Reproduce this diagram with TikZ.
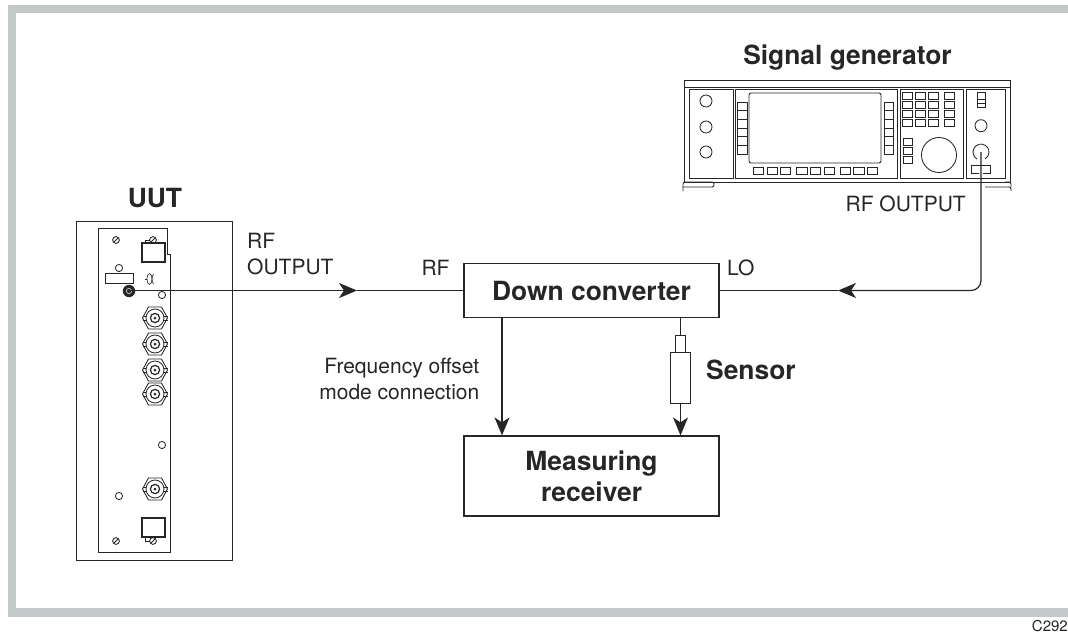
\documentclass[tikz,border=0pt]{standalone}
\usepackage{fontspec}
\setmainfont{TeX Gyre Heros}
\usetikzlibrary{arrows.meta}

\definecolor{bandgrey}{HTML}{C3C8C8}
\definecolor{inkgrey}{HTML}{262626}

% helpers for the front panels
\newcommand{\panelscrew}[1]{
    \draw[thin line] #1 circle (3.4);
    \draw[thin line] #1 ++(-2.2,2.2) -- ++(4.4,-4.4);
}
\newcommand{\bncsocket}[1]{
    \begin{scope}[shift={#1}]
        \draw[thin line] (-12.5,0) -- (-6.5,-11) -- (6.5,-11) -- (12.5,0) -- (6.5,11) -- (-6.5,11) -- cycle;
        \draw[thin line] (0,0) circle (9);
        \draw[fine line] (-12.5,-2) -- (-9,-2) (-12.5,2) -- (-9,2) (12.5,-2) -- (9,-2) (12.5,2) -- (9,2);
        \draw[line width=1.2pt,draw=inkgrey] (0,0) circle (4.6);
        \fill[inkgrey] (0,0) circle (1.5);
    \end{scope}
}
\newcommand{\softkey}[4]{\draw[fine line] (#1,#2) rectangle (#3,#4);}

\begin{document}
\begin{tikzpicture}[x=1pt,y=-1pt,
    thin line/.style={line width=0.85pt,draw=inkgrey},
    fine line/.style={line width=0.65pt,draw=inkgrey},
    panel line/.style={line width=0.95pt,draw=inkgrey},
    link/.style={line width=1.2pt,draw=inkgrey},
    arrowed/.style={link,-{Stealth[length=18pt,width=15pt,inset=5pt]}},
    blockbox/.style={draw=inkgrey,line width=1.2pt,inner sep=0pt,minimum width=255pt,align=center,font=\fontsize{26.4}{31}\selectfont\bfseries,text=inkgrey},
    headtext/.style={font=\fontsize{26.4}{31}\selectfont\bfseries,text=inkgrey,inner sep=0pt},
    plaintext/.style={font=\fontsize{21}{26}\selectfont,text=inkgrey,inner sep=0pt}]
    \useasboundingbox (0,0) rectangle (1068,634);
    % grey band round the figure
    \fill[bandgrey] (8,5) rectangle (1068,13);
    \fill[bandgrey] (8,5) rectangle (16,617);
    \fill[bandgrey] (8,608) rectangle (1068,617);

    % signal generator
    \draw[panel line] (684,80.5) rectangle (1010,182);
    \draw[panel line] (684,87) -- (1010,87);
    \draw[thin line,rounded corners=2] (683,191) -- (683,182) -- (714,182) -- (714,187) -- (683,187);
    \draw[thin line,rounded corners=2] (985,187) -- (1011,187) -- (1011,191);
    \draw[thin line,rounded corners=2] (1011,187) -- (1011,182) -- (1005,182);
    \draw[panel line] (689,89) rectangle (733,178);
    \draw[panel line] (735,89) rectangle (897,178);
    \draw[panel line] (900,89) rectangle (963,178);
    \draw[panel line] (966,89) rectangle (1005,178);
    \foreach \yy in {101,127,152} {
        \draw[thin line] (706,\yy) circle (6);
    }
    \draw[thin line,rounded corners=2] (749,93) rectangle (881,163);
    \foreach \yy in {102,110.7,119.4,128.1,136.8,145.5} {
        \softkey{737}{\yy}{747}{\yy+8.7}
        \softkey{884}{\yy}{893.5}{\yy+8.7}
    }
    \foreach \xx in {753.3,767,780.3,796.7,810.3,824,840.3,853.7,867.3} {
        \softkey{\xx}{167}{\xx+10.5}{174}
    }
    \foreach \xx in {902.7,915.7,928.7,944.7} {
        \foreach \yy in {92.7,101.7,110.7,119.7} {
            \softkey{\xx}{\yy}{\xx+9.5}{\yy+6.6}
        }
    }
    \foreach \yy in {138.3,147.3,156.3} {
        \softkey{903}{\yy}{912.7}{\yy+6.6}
    }
    \draw[thin line] (939,155) circle (17.5);
    \draw[fine line] (977,92) rectangle (985,107.7);
    \draw[fine line] (977,99.3) -- (985,99.3) (977,103) -- (985,103);
    \draw[thin line] (981,125.7) circle (6);
    \draw[thin line] (977,159) arc[start angle=120,end angle=420,radius=8];
    \draw[fine line] (979,173.3) -- (971.7,173.3) -- (971.7,165) -- (990.7,165) -- (990.7,173.3) -- (983,173.3);
    \coordinate (sgout) at (981,152);

    % UUT
    \draw[panel line] (76,221) rectangle (232,560);
    \draw[panel line] (167,254) -- (167,228) -- (98,228) -- (98,552) -- (170,552) -- (170,254) -- cycle;
    \foreach \px/\py in {116/240,153/240,116/541,153/541} {
        \panelscrew{(\px,\py)}
    }
    \draw[line width=1.5pt,draw=inkgrey] (142,243) rectangle (165,262);
    \draw[line width=1.5pt,draw=inkgrey] (142,518) rectangle (165,537);
    \draw[fine line] (145,243) -- (145,240) -- (150,240);
    \draw[fine line] (145,537) -- (145,541) -- (150,541);
    \foreach \px/\py in {119/268,162/295,162/445,119/496} {
        \draw[thin line] (\px,\py) circle (3.6);
    }
    \draw[thin line] (105,273) rectangle (133,283);
    \draw[fine line] (149.5,279) ellipse (2.6 and 5.4);
    \draw[fine line] (145,279) -- (147,279);
    \draw[fine line] (153.5,274) .. controls (151.5,277) and (151.5,281) .. (153.5,284);
    \foreach \py in {318,344,370,394,489} {
        \bncsocket{(155,\py)}
    }
    \fill[inkgrey] (129,291) circle (6.2);
    \draw[line width=0.8pt,draw=white!75!black] (129,291) circle (2.6);
    \coordinate (uutout) at (129,290.5);

    % blocks
    \node[blockbox,minimum height=54pt] (downconv) at (591.5,290.5) {Down converter};
    \node[blockbox,minimum height=80pt] (measrx) at (591.5,476) {Measuring\\receiver};
    \node[draw=inkgrey,line width=1pt,minimum width=10.5pt,minimum height=17pt,inner sep=0pt] (sensortip) at (680.5,343.5) {};
    \node[draw=inkgrey,line width=1pt,minimum width=20.5pt,minimum height=51pt,inner sep=0pt] (sensorbody) at (680.5,377.5) {};

    % connections
    \coordinate (rfmark) at (357,290.5);
    \coordinate (lomark) at (838,290.5);
    \coordinate (offsetline) at (502,380);
    \draw[arrowed] (uutout) -- (rfmark);
    \draw[link] (rfmark) -- (downconv.west);
    \draw[arrowed,rounded corners=10pt] (sgout) |- (lomark);
    \draw[link] (lomark) -- (downconv.east);
    \draw[arrowed] (downconv.south -| offsetline) -- (measrx.north -| offsetline);
    \draw[link] (downconv.south -| sensortip) -- (sensortip.north);
    \draw[arrowed] (sensorbody.south) -- (measrx.north -| sensorbody);

    % labels
    \node[headtext] (sgtitle) at (847.5,58) {Signal generator};
    \node[headtext] (uuttitle) at (155,198) {UUT};
    \node[headtext,anchor=west] (sensorlabel) at (706,370) {Sensor};
    \node[plaintext,anchor=east] (sgrflabel) at (966,204) {RF OUTPUT};
    \node[plaintext,anchor=west,align=left] (uutrflabel) at (247,254) {RF\\OUTPUT};
    \node[plaintext] (rflabel) at (435.5,268) {RF};
    \node[plaintext,anchor=west] (lolabel) at (727,268) {LO};
    \node[plaintext,anchor=east,align=right] (offsetlabel) at (479.5,379) {Frequency offset\\mode connection};
    \node[plaintext,anchor=east,font=\fontsize{15}{18}\selectfont] (figcode) at (1068,626) {C292};
\end{tikzpicture}
\end{document}
